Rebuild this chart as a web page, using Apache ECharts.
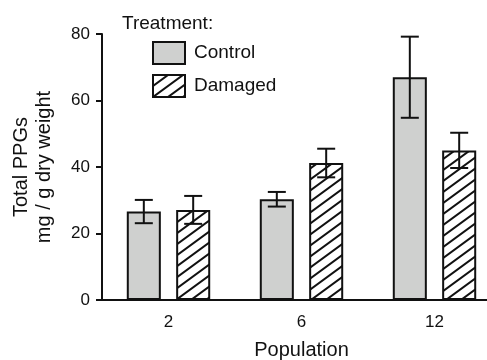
<!DOCTYPE html>
<html>
<head>
<meta charset="utf-8">
<script src="https://cdn.jsdelivr.net/npm/echarts@6/dist/echarts.min.js"></script>
<style>
  html, body { margin: 0; padding: 0; background: #fff; }
  #chart { width: 487px; height: 360px; }
</style>
</head>
<body>
<div id="chart"></div>
<script>
// Population sizes on the x axis
var populations = ['2', '6', '12'];
// Mean total PPGs (mg / g dry weight) and error half-widths
var controlMean = [26.6, 30.3, 67.0];
var controlErr = [3.5, 2.2, 12.2];
var damagedMean = [27.1, 41.2, 45.0];
var damagedErr = [4.2, 4.3, 5.3];
var yTicks = [0, 20, 40, 60, 80];

var FONT = '"Liberation Sans", Arial, Helvetica, sans-serif';

// Diagonal hatch tile for the damaged treatment
function hatchTile() {
  var w = 15, h = 11;
  var c = document.createElement('canvas');
  c.width = w; c.height = h;
  var ctx = c.getContext('2d');
  ctx.fillStyle = '#ffffff';
  ctx.fillRect(0, 0, w, h);
  ctx.strokeStyle = '#111111';
  ctx.lineWidth = 2;
  ctx.beginPath();
  ctx.moveTo(-w, 2 * h); ctx.lineTo(2 * w, -h);
  ctx.moveTo(-2 * w, 2 * h); ctx.lineTo(w, -h);
  ctx.moveTo(0, 2 * h); ctx.lineTo(3 * w, -h);
  ctx.stroke();
  return c;
}
var hatch = { image: hatchTile(), repeat: 'repeat' };

var BAR_FRAC = 0.256;
var BAR_GAP = 0.45;

function errorSeries(name, means, errs, side) {
  var data = means.map(function (m, i) { return [i, m - errs[i], m + errs[i]]; });
  return {
    type: 'custom',
    name: name + ' error',
    z: 10,
    silent: true,
    renderItem: function (params, api) {
      var band = api.size([1, 0])[0];
      var bw = band * BAR_FRAC;
      var off = side * bw * (1 + BAR_GAP) / 2;
      var lo = api.coord([api.value(0), api.value(1)]);
      var hi = api.coord([api.value(0), api.value(2)]);
      var x = lo[0] + off;
      var cap = 9;
      var style = { stroke: '#111', lineWidth: 2, fill: null };
      return {
        type: 'group',
        children: [
          { type: 'line', shape: { x1: x, y1: lo[1], x2: x, y2: hi[1] }, style: style },
          { type: 'line', shape: { x1: x - cap, y1: lo[1], x2: x + cap, y2: lo[1] }, style: style },
          { type: 'line', shape: { x1: x - cap, y1: hi[1], x2: x + cap, y2: hi[1] }, style: style }
        ]
      };
    },
    encode: { x: 0, y: [1, 2] },
    data: data
  };
}

var chart = echarts.init(document.getElementById('chart'), null, { renderer: 'canvas' });
chart.setOption({
  animation: false,
  backgroundColor: '#ffffff',
  textStyle: { fontFamily: FONT },
  title: {
    text: 'Treatment:',
    left: 117,
    top: 9,
    textStyle: { fontFamily: FONT, fontSize: 19, fontWeight: 'normal', color: '#111' }
  },
  legend: {
    data: ['Control', 'Damaged'],
    orient: 'vertical',
    left: 147,
    top: 36,
    icon: 'rect',
    itemWidth: 32,
    itemHeight: 22,
    itemGap: 9,
    textStyle: { fontFamily: FONT, fontSize: 19, color: '#111', padding: [0, 0, 0, 4] }
  },
  grid: { left: 102, top: 34, bottom: 60, right: -14, containLabel: false, outerBoundsMode: 'none' },
  xAxis: {
    type: 'category',
    data: populations,
    name: 'Population',
    nameLocation: 'middle',
    nameGap: 40,
    nameTextStyle: { fontFamily: FONT, fontSize: 20, color: '#111' },
    axisLine: { lineStyle: { color: '#111', width: 2 } },
    axisTick: { alignWithLabel: true, length: 6, lineStyle: { color: '#111', width: 2 } },
    axisLabel: { fontFamily: FONT, fontSize: 17, color: '#111', margin: 14 }
  },
  yAxis: {
    type: 'value',
    min: yTicks[0],
    max: yTicks[yTicks.length - 1],
    interval: yTicks[1] - yTicks[0],
    name: 'Total PPGs\nmg / g dry weight',
    nameLocation: 'middle',
    nameGap: 46,
    nameTextStyle: { fontFamily: FONT, fontSize: 20, color: '#111', lineHeight: 23 },
    splitLine: { show: false },
    axisLine: { show: true, lineStyle: { color: '#111', width: 2 } },
    axisTick: { show: true, length: 6, lineStyle: { color: '#111', width: 2 } },
    axisLabel: { fontFamily: FONT, fontSize: 17, color: '#111', margin: 12 }
  },
  series: [
    {
      name: 'Control',
      type: 'bar',
      barWidth: (BAR_FRAC * 100) + '%',
      barGap: (BAR_GAP * 100) + '%',
      itemStyle: { color: '#cfd0cf', borderColor: '#111', borderWidth: 2 },
      data: controlMean
    },
    {
      name: 'Damaged',
      type: 'bar',
      barWidth: (BAR_FRAC * 100) + '%',
      barGap: (BAR_GAP * 100) + '%',
      itemStyle: { color: hatch, borderColor: '#111', borderWidth: 2 },
      data: damagedMean
    },
    errorSeries('Control', controlMean, controlErr, -1),
    errorSeries('Damaged', damagedMean, damagedErr, 1)
  ]
});
</script>
</body>
</html>
